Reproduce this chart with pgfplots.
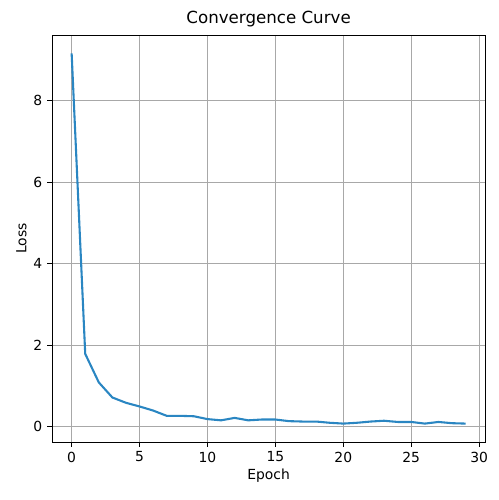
\documentclass[border=0pt]{standalone}
\usepackage{pgfplots}
\pgfplotsset{compat=1.18}
\usepackage{fontspec}
\setmainfont{DejaVu Sans}
\definecolor{mplblue}{HTML}{2A86C2}
\definecolor{gridgray}{HTML}{A8A8A8}
\pgfplotstableread{
x y
0 9.16
1 1.79
2 1.09
3 0.72
4 0.59
5 0.50
6 0.40
7 0.27
8 0.27
9 0.26
10 0.19
11 0.16
12 0.22
13 0.16
14 0.18
15 0.18
16 0.14
17 0.13
18 0.13
19 0.10
20 0.08
21 0.10
22 0.13
23 0.15
24 0.12
25 0.12
26 0.08
27 0.12
28 0.09
29 0.08
}\losstable
\begin{document}
\begin{tikzpicture}
\useasboundingbox (-37.4pt,-41.8pt) rectangle (321.4pt,318.2pt);
\begin{axis}[
  at={(0,0)}, anchor=south west,
  scale only axis,
  width=312pt, height=293pt,
  xmin=-1.45, xmax=30.45,
  ymin=-0.37, ymax=9.61,
  xtick={0,5,...,30},
  ytick={0,2,4,6,8},
  tick pos=left,
  tick align=outside,
  major tick length=3.5pt,
  tick style={black, line width=0.6pt},
  axis line style={black, line width=0.6pt},
  grid=major,
  major grid style={gridgray, line width=0.6pt},
  /pgf/number format/assume math mode=true,
  tick label style={font=\fontsize{10}{12}\selectfont},
  label style={font=\fontsize{10}{12}\selectfont},
  title style={font=\fontsize{12}{14}\selectfont, yshift=-4pt},
  title={Convergence Curve},
  xlabel={Epoch},
  ylabel={Loss},
  xlabel style={yshift=2pt},
  ylabel style={yshift=-2pt},
]
\addplot[mplblue, line width=1.5pt, line join=round] table[x=x,y=y] {\losstable};
\end{axis}
\end{tikzpicture}
\end{document}
